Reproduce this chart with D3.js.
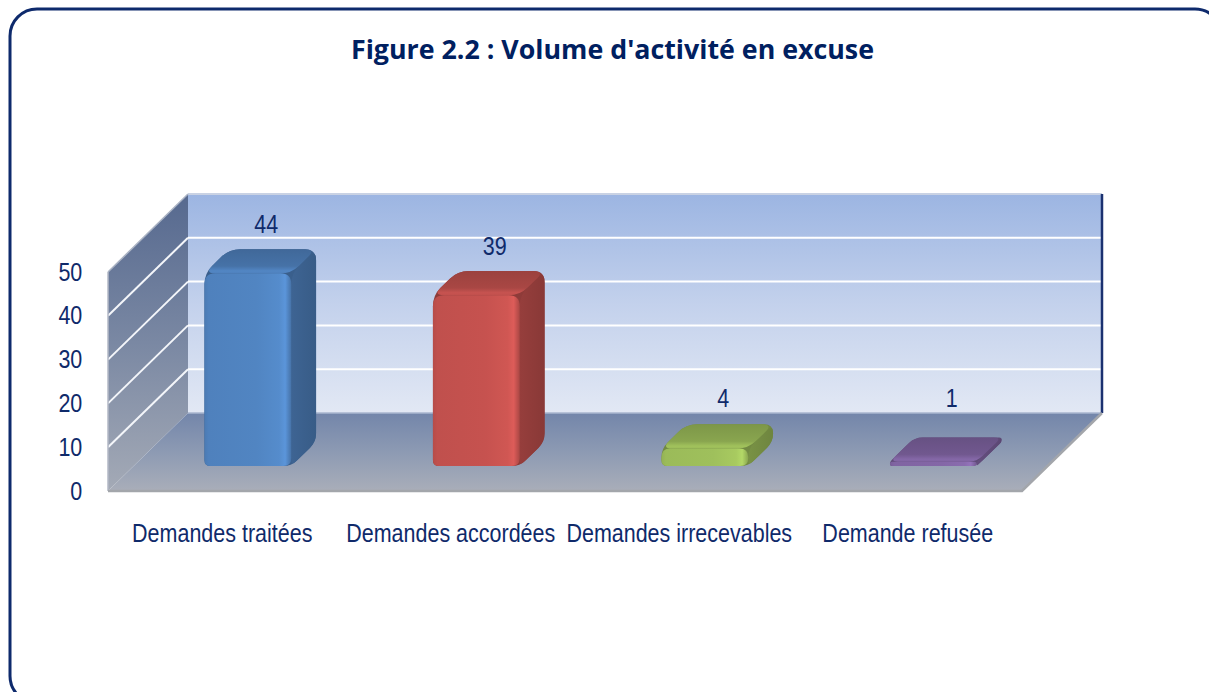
<!DOCTYPE html>
<html>
<head>
<meta charset="utf-8">
<script src="https://cdn.jsdelivr.net/npm/d3@7"></script>
<style>
  html, body { margin: 0; padding: 0; background: #ffffff; }
  svg { display: block; }
</style>
</head>
<body>
<svg id="chart" width="1209" height="692"></svg>
<script>
// ---- data ----
const titleText = "Figure 2.2 : Volume d'activité en excuse";
const categories = ["Demandes traitées", "Demandes accordées", "Demandes irrecevables", "Demande refusée"];
const values = [44, 39, 4, 1];
const yTicks = [0, 10, 20, 30, 40, 50];
const barColors = ["#4f81bd", "#c0504d", "#9bbb59", "#8064a2"];

// ---- layout ----
const W = 1209, H = 692;
const svg = d3.select("#chart");
const defs = svg.append("defs");
const navy = "#0f2a6a";
const sx = 0.86; // horizontal squeeze of the text

// frame
svg.append("rect")
  .attr("x", 10).attr("y", 9).attr("width", 1212).attr("height", 694)
  .attr("rx", 27).attr("ry", 27)
  .attr("fill", "#fff").attr("stroke", "#0e2a6c").attr("stroke-width", 3);

// title
svg.append("text")
  .attr("x", 351).attr("y", 59)
  .attr("textLength", 523).attr("lengthAdjust", "spacingAndGlyphs")
  .attr("font-family", "'Open Sans', 'DejaVu Sans', sans-serif")
  .attr("font-weight", 700).attr("font-size", 27)
  .attr("fill", "#002060")
  .text(titleText);

// 3D projection
const depthDX = 80, depthDY = 78;
const x = d3.scaleBand().domain(categories).range([108, 1022]).padding(0);
const y = d3.scaleLinear().domain([0, 50]).range([491, 272]);
const P = (xx, v, z) => [xx + z * depthDX, y(v) - z * depthDY];
const X0 = x.range()[0], X1 = x.range()[1];
const vMax = y.domain()[1];

function poly(pts) { return "M" + pts.map(p => p.join(",")).join("L") + "Z"; }
function roundPath(pts, r) {
  const n = pts.length; let d = "";
  for (let i = 0; i < n; i++) {
    const p0 = pts[(i - 1 + n) % n], p1 = pts[i], p2 = pts[(i + 1) % n];
    const v1 = [p0[0] - p1[0], p0[1] - p1[1]], v2 = [p2[0] - p1[0], p2[1] - p1[1]];
    const l1 = Math.hypot(v1[0], v1[1]) || 1e-6, l2 = Math.hypot(v2[0], v2[1]) || 1e-6;
    const rr = Math.min(Array.isArray(r) ? r[i] : r, l1 / 2, l2 / 2);
    const a = [p1[0] + v1[0] / l1 * rr, p1[1] + v1[1] / l1 * rr];
    const b = [p1[0] + v2[0] / l2 * rr, p1[1] + v2[1] / l2 * rr];
    d += (i === 0 ? "M" : "L") + a.join(",") + "Q" + p1.join(",") + " " + b.join(",");
  }
  return d + "Z";
}
function linGrad(id, x1, y1, x2, y2, stops) {
  const g = defs.append("linearGradient").attr("id", id)
    .attr("x1", x1).attr("y1", y1).attr("x2", x2).attr("y2", y2);
  stops.forEach(s => g.append("stop").attr("offset", s[0]).attr("stop-color", s[1]));
}

// wall / floor gradients
linGrad("gBack", 0, 0, 0, 1, [[0, "#9cb5e2"], [0.5, "#c3d1ec"], [1, "#e2e8f4"]]);
linGrad("gSide", 0, 0, 0, 1, [[0, "#56698f"], [0.5, "#7a88a3"], [1, "#a4aab6"]]);
linGrad("gFloor", 0, 0, 0, 1, [[0, "#7386aa"], [0.5, "#8d9ab3"], [1, "#a9aeb9"]]);

const walls = svg.append("g");
// back wall
walls.append("path")
  .attr("d", poly([P(X0, vMax, 1), P(X1, vMax, 1), P(X1, 0, 1), P(X0, 0, 1)]))
  .attr("fill", "url(#gBack)");
// side wall
walls.append("path")
  .attr("d", poly([P(X0, 0, 0), P(X0, vMax, 0), P(X0, vMax, 1), P(X0, 0, 1)]))
  .attr("fill", "url(#gSide)");
// floor
walls.append("path")
  .attr("d", poly([P(X0, 0, 0), P(X1, 0, 0), P(X1, 0, 1), P(X0, 0, 1)]))
  .attr("fill", "url(#gFloor)");

// gridlines
yTicks.filter(v => v > 0 && v < vMax).forEach(v => {
  walls.append("line")
    .attr("x1", P(X0, v, 1)[0]).attr("y1", P(X0, v, 1)[1])
    .attr("x2", P(X1, v, 1)[0]).attr("y2", P(X1, v, 1)[1])
    .attr("stroke", "#ffffff").attr("stroke-width", 2);
  walls.append("line")
    .attr("x1", P(X0, v, 0)[0]).attr("y1", P(X0, v, 0)[1])
    .attr("x2", P(X0, v, 1)[0]).attr("y2", P(X0, v, 1)[1])
    .attr("stroke", "#f4f6fa").attr("stroke-width", 2);
});
// edges
walls.append("line")
  .attr("x1", P(X0, vMax, 1)[0]).attr("y1", P(X0, vMax, 1)[1])
  .attr("x2", P(X1, vMax, 1)[0]).attr("y2", P(X1, vMax, 1)[1])
  .attr("stroke", "#c9d2e4").attr("stroke-width", 2);
walls.append("line")
  .attr("x1", P(X0, vMax, 0)[0]).attr("y1", P(X0, vMax, 0)[1])
  .attr("x2", P(X0, vMax, 1)[0]).attr("y2", P(X0, vMax, 1)[1])
  .attr("stroke", "#aab3c4").attr("stroke-width", 1.5);
walls.append("line")
  .attr("x1", P(X0, 0, 0)[0]).attr("y1", P(X0, 0, 0)[1])
  .attr("x2", P(X0, vMax, 0)[0]).attr("y2", P(X0, vMax, 0)[1])
  .attr("stroke", "#b3b9c6").attr("stroke-width", 1.5);
walls.append("line")
  .attr("x1", P(X0, 0, 1)[0]).attr("y1", P(X0, 0, 1)[1])
  .attr("x2", P(X1, 0, 1)[0]).attr("y2", P(X1, 0, 1)[1])
  .attr("stroke", "#a9b6cf").attr("stroke-width", 1.5);
walls.append("line")
  .attr("x1", P(X1, 0, 1)[0]).attr("y1", P(X1, 0, 1)[1])
  .attr("x2", P(X1, vMax, 1)[0]).attr("y2", P(X1, vMax, 1)[1])
  .attr("stroke", "#1b3170").attr("stroke-width", 2.5);
walls.append("path")
  .attr("d", "M" + P(X0, 0, 0).join(",") + "L" + P(X1, 0, 0).join(",") + "L" + P(X1, 0, 1).join(","))
  .attr("fill", "none").attr("stroke", "#a3a6ab").attr("stroke-width", 2.5);

// y axis (front plane)
const yAxis = svg.append("g")
  .attr("transform", `translate(${X0 - 24},0)`)
  .call(d3.axisLeft(y).tickValues(yTicks).tickSize(0).tickPadding(2));
yAxis.select(".domain").remove();
yAxis.selectAll("text")
  .attr("font-family", "'Liberation Sans', Arial, sans-serif")
  .attr("font-size", 25).attr("fill", navy)
  .attr("transform", `scale(${sx},1)`);

// bars
const z0 = 0.32, z1 = 0.63, barFrac = 0.38;
const bars = svg.append("g");
values.forEach((v, i) => {
  const c = d3.color(barColors[i]);
  const bx = x(categories[i]), bw = x.bandwidth();
  const xL = bx + bw * (0.5 - barFrac / 2), xR = bx + bw * (0.5 + barFrac / 2);
  const FBL = P(xL, 0, z0), FBR = P(xR, 0, z0), FTR = P(xR, v, z0), FTL = P(xL, v, z0);
  const BBR = P(xR, 0, z1), BTR = P(xR, v, z1), BTL = P(xL, v, z1);
  const side = c.darker(0.85), top = c.darker(0.35);

  linGrad("gFront" + i, 0, 0, 1, 0, [
    [0, c.darker(0.15)], [0.05, c], [0.6, c.brighter(0.08)], [0.86, c.brighter(0.22)],
    [0.93, c.brighter(0.4)], [1, c.darker(0.35)]
  ]);
  linGrad("gTop" + i, 0, 0, 0, 1, [
    [0, top.darker(0.25)], [0.7, top], [0.9, c.brighter(0.1)], [1, c]
  ]);
  linGrad("gSideB" + i, 0, 0, 1, 0, [
    [0, side.brighter(0.15)], [1, side.darker(0.1)]
  ]);

  const r = Math.min(11, (FBL[1] - FTL[1]) * 0.9 + 4);
  bars.append("path")
    .attr("d", roundPath([FBL, FBR, BBR, BTR, BTL, FTL], [6, 8, 9, r, r, r]))
    .attr("fill", side);
  bars.append("path")
    .attr("d", roundPath([FBR, BBR, BTR, FTR], [6, 8, r, r]))
    .attr("fill", "url(#gSideB" + i + ")");
  bars.append("path")
    .attr("d", roundPath([FTL, FTR, BTR, BTL], r))
    .attr("fill", "url(#gTop" + i + ")");
  bars.append("path")
    .attr("d", roundPath([FBL, FBR, FTR, FTL], [6, 8, r, r]))
    .attr("fill", "url(#gFront" + i + ")");

  // data label
  const lx = bx + bw / 2 + 0.55 * depthDX;
  const ly = Math.min(BTL[1] - 25, P(X0, 0, 1)[1] - 15);
  svg.append("text")
    .attr("transform", `translate(${lx},${ly}) scale(${sx},1)`)
    .attr("text-anchor", "middle").attr("dy", "0.35em")
    .attr("font-family", "'Liberation Sans', Arial, sans-serif")
    .attr("font-size", 25).attr("fill", navy)
    .text(v);
});

// category labels
categories.forEach(cat => {
  svg.append("text")
    .attr("transform", `translate(${x(cat) + x.bandwidth() / 2},${533}) scale(${sx},1)`)
    .attr("text-anchor", "middle").attr("dy", "0.35em")
    .attr("font-family", "'Liberation Sans', Arial, sans-serif")
    .attr("font-size", 25).attr("fill", navy)
    .text(cat);
});
</script>
</body>
</html>
